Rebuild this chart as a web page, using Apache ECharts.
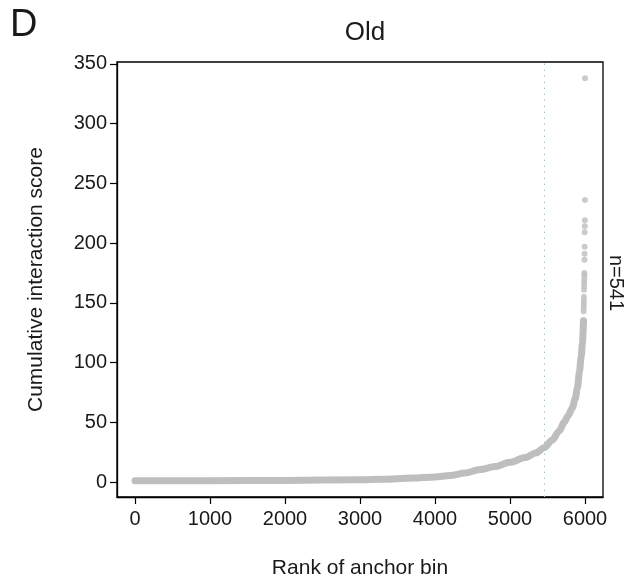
<!DOCTYPE html>
<html>
<head>
<meta charset="utf-8">
<script src="https://cdn.jsdelivr.net/npm/echarts@6/dist/echarts.min.js"></script>
<style>html,body{margin:0;padding:0;background:#fff}#c{width:631px;height:585px}</style>
</head>
<body>
<div id="c"></div>
<script>
// Dense part of the ranked curve
var curveRanks  = [0, 1000, 2000, 3000, 3300, 3700, 4000, 4200, 4400, 4600, 4800, 5000, 5200, 5350, 5460, 5560, 5660, 5720, 5780, 5830, 5870, 5900, 5925, 5950, 5965, 5980];
var curveScores = [1.0, 1.1, 1.4, 2.0, 2.3, 3.3, 4.2, 5.5, 7.5, 10.5, 13, 16.5, 20.5, 24.5, 29, 35, 43, 50, 56, 62, 70, 79, 92, 105, 116, 135];
// Sparse top points (highest ranks)
var topRanks  = [5982, 5983, 5984, 5985, 5986, 5987, 5988, 5989, 5990, 5991, 5992, 5993, 5994, 5995, 5996, 5997, 5998, 5999, 6000];
var topScores = [143, 146, 149, 152, 155, 161, 164, 167, 170, 173, 175, 186, 191, 197, 209, 214, 219, 236, 338];
var xTicks = [0, 1000, 2000, 3000, 4000, 5000, 6000];
var yTicks = [0, 50, 100, 150, 200, 250, 300, 350];
var cutoffRank = 5459.5;
var nLabel = 'n=541';

var grey = '#BEBEBE';
var ink = '#1a1a1a';
var font = 'Liberation Sans, Arial, Helvetica, sans-serif';
var chart = echarts.init(document.getElementById('c'));
chart.setOption({
  animation: false,
  backgroundColor: '#fff',
  title: {
    text: 'Old', left: 360, top: 15, textAlign: 'center',
    textStyle: {fontFamily: font, fontSize: 26, fontWeight: 'normal', color: ink}
  },
  graphic: [
    {type: 'text', left: 10, top: 7, style: {text: 'D', font: '38px ' + font, fill: ink}},
    {type: 'text', x: 616, y: 283, rotation: -Math.PI / 2,
     style: {text: nLabel, font: '20px ' + font, fill: ink, textAlign: 'center', textVerticalAlign: 'middle'}}
  ],
  grid: {left: 117, right: 28, top: 62, bottom: 88, show: true, borderColor: '#000', borderWidth: 1.3, backgroundColor: 'transparent'},
  xAxis: {
    type: 'value', min: -240, max: 6240,
    name: 'Rank of anchor bin', nameLocation: 'middle', nameGap: 61,
    nameTextStyle: {fontFamily: font, fontSize: 21, color: ink},
    axisLine: {show: true, onZero: false, lineStyle: {color: '#000', width: 1.3}},
    splitLine: {show: false},
    axisTick: {show: true, inside: false, length: 7, lineStyle: {color: '#000', width: 1.2}, customValues: xTicks},
    axisLabel: {fontFamily: font, fontSize: 20, color: ink, margin: 12, customValues: xTicks,
      formatter: function (v) { return String(v); }}
  },
  yAxis: {
    type: 'value', min: -12.5, max: 351.5,
    name: 'Cumulative interaction score', nameLocation: 'middle', nameGap: 70,
    nameTextStyle: {fontFamily: font, fontSize: 21, color: ink},
    axisLine: {show: true, onZero: false, lineStyle: {color: '#000', width: 1.3}},
    splitLine: {show: false},
    axisTick: {show: true, inside: false, length: 7, lineStyle: {color: '#000', width: 1.2}, customValues: yTicks},
    axisLabel: {fontFamily: font, fontSize: 20, color: ink, margin: 10, customValues: yTicks,
      formatter: function (v) { return String(v); }}
  },
  series: [
    {
      type: 'line',
      data: curveRanks.map(function (r, i) { return [r, curveScores[i]]; }),
      showSymbol: false, symbol: 'none', smooth: 0.3, smoothMonotone: 'x',
      lineStyle: {color: grey, width: 7, cap: 'round', join: 'round'},
      markLine: {
        silent: true, symbol: ['none', 'none'], label: {show: false},
        lineStyle: {color: '#87CEEB', type: [1.5, 4.5], width: 1},
        data: [{xAxis: cutoffRank}]
      },
      z: 2
    },
    {
      type: 'scatter',
      data: topRanks.map(function (r, i) { return [r, topScores[i]]; }),
      symbolSize: 6,
      itemStyle: {color: grey},
      z: 3
    }
  ]
});
</script>
</body>
</html>
